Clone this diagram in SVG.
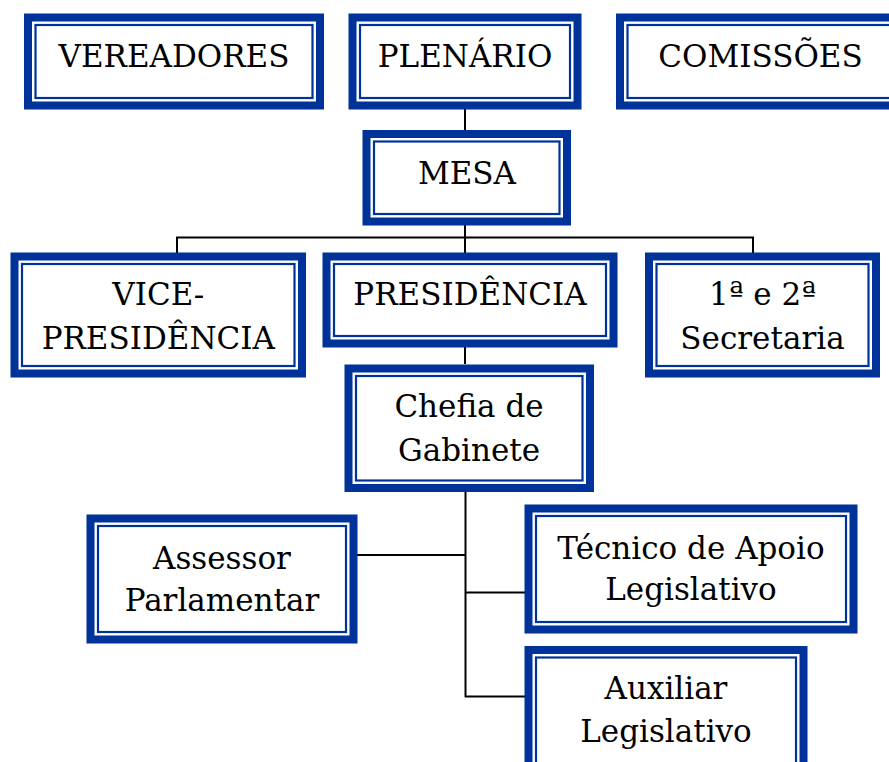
<svg xmlns="http://www.w3.org/2000/svg" width="889" height="762" viewBox="0 0 889 762">
<style>
.outer{fill:#ffffff;stroke:#003399;stroke-width:8}
.inner{fill:none;stroke:#003399;stroke-width:2.2}
.t{font-family:"DejaVu Serif","Liberation Serif",serif;font-size:31px;fill:#000000;text-anchor:middle}
.c{fill:none;stroke:#000000;stroke-width:2}
</style>
<rect width="889" height="762" fill="#ffffff"/>
<g id="connectors">
<line class="c" x1="465" y1="109" x2="465" y2="130"/>
<line class="c" x1="465" y1="225" x2="465" y2="253"/>
<polyline class="c" points="177,253 177,237.5 753,237.5 753,253"/>
<line class="c" x1="465" y1="347" x2="465" y2="364"/>
<line class="c" x1="465.5" y1="491" x2="465.5" y2="697"/>
<line class="c" x1="357" y1="555" x2="466" y2="555"/>
<line class="c" x1="465" y1="592.5" x2="525" y2="592.5"/>
<line class="c" x1="465" y1="696.5" x2="525" y2="696.5"/>
</g>
<g id="vereadores">
<rect class="outer" x="28" y="17.5" width="292" height="88"/>
<rect class="inner" x="35.5" y="25" width="277" height="73"/>
<text class="t" x="174" y="67">VEREADORES</text>
</g>
<g id="plenario">
<rect class="outer" x="352.5" y="17.5" width="225" height="88"/>
<rect class="inner" x="360" y="25" width="210" height="73"/>
<text class="t" x="465" y="67">PLENÁRIO</text>
</g>
<g id="comissoes">
<rect class="outer" x="620" y="17.5" width="281" height="88"/>
<rect class="inner" x="627.5" y="25" width="266" height="73"/>
<text class="t" x="760.5" y="67">COMISSÕES</text>
</g>
<g id="mesa">
<rect class="outer" x="366.5" y="134" width="200.5" height="87.5"/>
<rect class="inner" x="374" y="141.5" width="185.5" height="72.5"/>
<text class="t" x="467" y="183.5">MESA</text>
</g>
<g id="vice-presidencia">
<rect class="outer" x="14.5" y="256.5" width="287.5" height="117"/>
<rect class="inner" x="22" y="264" width="272.5" height="102"/>
<text class="t" x="158.3" y="305">VICE-</text>
<text class="t" x="158.3" y="349">PRESIDÊNCIA</text>
</g>
<g id="presidencia">
<rect class="outer" x="326.5" y="256.5" width="287" height="87"/>
<rect class="inner" x="334" y="264" width="272" height="72"/>
<text class="t" x="470" y="305">PRESIDÊNCIA</text>
</g>
<g id="secretaria">
<rect class="outer" x="649" y="256.5" width="227" height="117"/>
<rect class="inner" x="656.5" y="264" width="212" height="102"/>
<text class="t" x="762.5" y="305">1ª e 2ª</text>
<text class="t" x="762.5" y="349">Secretaria</text>
</g>
<g id="chefia">
<rect class="outer" x="348.5" y="368.5" width="241.5" height="119.5"/>
<rect class="inner" x="356" y="376" width="226.5" height="104.5"/>
<text class="t" x="469" y="417">Chefia de</text>
<text class="t" x="469" y="461">Gabinete</text>
</g>
<g id="assessor">
<rect class="outer" x="90.5" y="518.5" width="263" height="121"/>
<rect class="inner" x="98" y="526" width="248" height="106"/>
<text class="t" x="222" y="568.5">Assessor</text>
<text class="t" x="222" y="611">Parlamentar</text>
</g>
<g id="tecnico">
<rect class="outer" x="528.5" y="508.5" width="325" height="121"/>
<rect class="inner" x="536" y="516" width="310" height="106"/>
<text class="t" x="691" y="558.5">Técnico de Apoio</text>
<text class="t" x="691" y="600">Legislativo</text>
</g>
<g id="auxiliar">
<rect class="outer" x="528.5" y="650" width="275" height="125"/>
<rect class="inner" x="536" y="657.5" width="260" height="110"/>
<text class="t" x="666" y="698.5">Auxiliar</text>
<text class="t" x="666" y="742">Legislativo</text>
</g>
</svg>
